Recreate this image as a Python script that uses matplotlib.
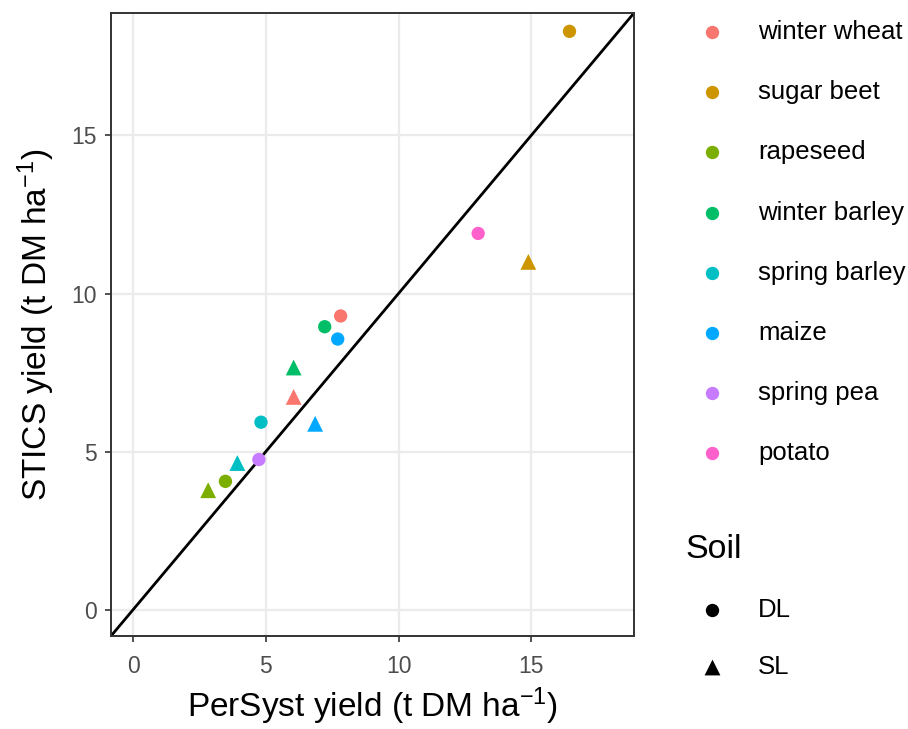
import matplotlib
matplotlib.use("Agg")
import matplotlib.pyplot as plt

plt.rcParams['font.family'] = ['Liberation Sans', 'DejaVu Sans']
plt.rcParams['mathtext.fontset'] = 'custom'
plt.rcParams['mathtext.rm'] = 'Liberation Sans'
plt.rcParams['mathtext.it'] = 'Liberation Sans:italic'

crops = ["winter wheat", "sugar beet", "rapeseed", "winter barley",
         "spring barley", "maize", "spring pea", "potato"]
colors = ["#F8766D", "#CD9600", "#7CAE00", "#00BE67",
          "#00BFC4", "#00A9FF", "#C77CFF", "#FF61CC"]

# DL soil (circles)
dl_crop = ["winter wheat", "sugar beet", "rapeseed", "winter barley",
           "spring barley", "maize", "spring pea", "potato"]
dl_persyst = [7.82, 16.44, 3.48, 7.22, 4.82, 7.71, 4.74, 13.0]
dl_stics = [9.29, 18.29, 4.06, 8.95, 5.93, 8.56, 4.75, 11.9]

# SL soil (triangles)
sl_crop = ["winter wheat", "sugar beet", "rapeseed", "winter barley",
           "spring barley", "maize"]
sl_persyst = [6.05, 14.89, 2.83, 6.05, 3.93, 6.86]
sl_stics = [6.73, 11.0, 3.78, 7.66, 4.64, 5.88]

soils = ["DL", "SL"]
xticks = [0, 5, 10, 15]
yticks = [0, 5, 10, 15]
lim = (-0.83, 18.87)

W, H = 908, 729
fig = plt.figure(figsize=(W / 100, H / 100), dpi=100)
ax = fig.add_axes([111 / W, 1 - 636 / H, 523 / W, 623 / H])

ax.set_xlim(lim)
ax.set_ylim(lim)
ax.set_xticks(xticks)
ax.set_yticks(yticks)
ax.grid(True, color="#EBEBEB", linewidth=1.6)
ax.set_axisbelow(True)
for s in ax.spines.values():
    s.set_color("#333333")
    s.set_linewidth(1.4)
ax.tick_params(colors="#333333", length=4.5, width=1.2, labelsize=16.5,
               labelcolor="#4D4D4D")
ax.tick_params(axis="x", pad=9.5)
ax.tick_params(axis="y", pad=6)

ax.plot(lim, lim, color="black", linewidth=2.0, zorder=2)

cmap = dict(zip(crops, colors))
ax.scatter(dl_persyst, dl_stics, c=[cmap[c] for c in dl_crop], marker="o",
           s=92, linewidths=0, zorder=3)
ax.scatter(sl_persyst, sl_stics, c=[cmap[c] for c in sl_crop], marker="^",
           s=130, linewidths=0, zorder=3)

ax.set_xlabel(r"PerSyst yield (t DM ha$^{-1}$)", fontsize=24, labelpad=5)
ax.set_ylabel(r"STICS yield (t DM ha$^{-1}$)", fontsize=24, labelpad=10)

# Legends drawn in figure coordinates
lax = fig.add_axes([0, 0, 1, 1], facecolor="none")
lax.set_xlim(0, W)
lax.set_ylim(H, 0)
lax.axis("off")
for i, (c, col) in enumerate(zip(crops, colors)):
    y = 32 + i * 60.2
    lax.scatter([712], [y], color=col, marker="o", s=92, linewidths=0)
    lax.text(758, y, c, fontsize=18.5, va="center", ha="left")

lax.text(685, 550, "Soil", fontsize=24.5, va="center", ha="left")
for j, (s, m) in enumerate(zip(soils, ["o", "^"])):
    y = 610 + j * 57
    lax.scatter([712], [y], color="black", marker=m,
                s=92 if m == "o" else 130, linewidths=0)
    lax.text(758, y, s, fontsize=18.5, va="center", ha="left")

fig.savefig("out.png", dpi=100)
